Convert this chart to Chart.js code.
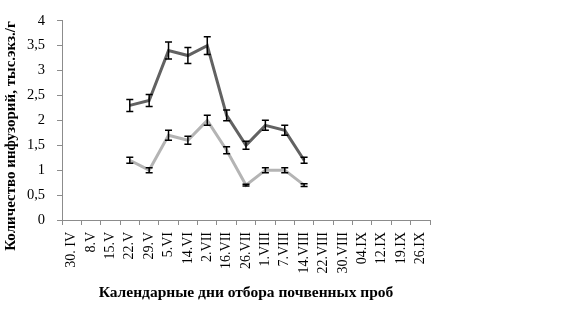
<!DOCTYPE html>
<html>
<head>
<meta charset="utf-8">
<script src="https://cdn.jsdelivr.net/npm/chart.js@4"></script>
<style>
html,body{margin:0;padding:0;background:#fff;}
#wrap{width:564px;height:310px;position:relative;}
</style>
</head>
<body>
<div id="wrap"><canvas id="c"></canvas></div>
<script>
const categories = ["30. IV","8.V","15.V","22.V","29.V","5.VI","14.VI","2.VII","16.VII","26.VII","1.VIII","7.VIII","14.VIII","22.VIII","30.VIII","04.IX","12.IX","19.IX","26.IX"];
const seriesDark = [null,null,null,2.3,2.4,3.4,3.3,3.5,2.1,1.5,1.9,1.8,1.2,null,null,null,null,null,null];
const errorsDark = [null,null,null,0.12,0.12,0.17,0.16,0.18,0.11,0.08,0.1,0.1,0.06,null,null,null,null,null,null];
const seriesLight = [null,null,null,1.2,1.0,1.7,1.6,2.0,1.4,0.7,1.0,1.0,0.7,null,null,null,null,null,null];
const errorsLight = [null,null,null,0.06,0.05,0.1,0.08,0.1,0.07,0.02,0.05,0.05,0.03,null,null,null,null,null,null];
const yTicks = [0,0.5,1,1.5,2,2.5,3,3.5,4];
const yTitle = "Количество инфузорий, тыс.экз./г";
const xTitle = "Календарные дни отбора почвенных проб";

const errorBars = {
  id: 'errorBars',
  afterDatasetsDraw(chart) {
    const ctx = chart.ctx;
    const xs = chart.scales.x, ys = chart.scales.y;
    const errs = [errorsDark, errorsLight];
    ctx.save();
    ctx.strokeStyle = '#000';
    ctx.lineWidth = 1.5;
    chart.data.datasets.forEach((ds, i) => {
      ds.data.forEach((v, j) => {
        const e = errs[i][j];
        if (v === null || e === null) return;
        const x = xs.getPixelForValue(j);
        const y1 = ys.getPixelForValue(v + e);
        const y2 = ys.getPixelForValue(v - e);
        ctx.beginPath();
        ctx.moveTo(x, y1); ctx.lineTo(x, y2);
        ctx.moveTo(x - 3.5, y1); ctx.lineTo(x + 3.5, y1);
        ctx.moveTo(x - 3.5, y2); ctx.lineTo(x + 3.5, y2);
        ctx.stroke();
      });
    });
    ctx.restore();
  }
};

const yTitlePlugin = {
  id: 'yTitlePlugin',
  afterDraw(chart) {
    const ctx = chart.ctx;
    ctx.save();
    ctx.translate(11, 136);
    ctx.rotate(-Math.PI / 2);
    ctx.font = 'bold 15px "Liberation Serif"';
    ctx.fillStyle = '#000';
    ctx.textAlign = 'center';
    ctx.textBaseline = 'middle';
    ctx.fillText(yTitle, 0, 0);
    ctx.restore();
  }
};

new Chart(document.getElementById('c'), {
  type: 'line',
  data: {
    labels: categories,
    datasets: [
      {data: seriesDark, borderColor: '#626262', borderWidth: 3, pointRadius: 0, tension: 0, fill: false},
      {data: seriesLight, borderColor: '#b4b4b4', borderWidth: 3, pointRadius: 0, tension: 0, fill: false}
    ]
  },
  options: {
    responsive: true,
    maintainAspectRatio: false,
    animation: false,
    layout: {padding: {left: 0, right: 134, top: 15, bottom: 0}},
    plugins: {legend: {display: false}, tooltip: {enabled: false}},
    scales: {
      x: {
        offset: true,
        grid: {offset: true, drawOnChartArea: false, tickLength: 5, color: '#8c8c8c'},
        border: {color: '#8c8c8c', width: 1},
        ticks: {minRotation: 90, maxRotation: 90, autoSkip: false, padding: 7, color: '#000',
                font: {family: '"Liberation Serif"', size: 14}},
        title: {display: true, text: xTitle, color: '#000', padding: {top: 0, bottom: 8},
                font: {family: '"Liberation Serif"', size: 15.5, weight: 'bold'}},
        afterFit(s) { s.height = 90; }
      },
      y: {
        min: 0, max: 4,
        afterBuildTicks(s) { s.ticks = yTicks.map(v => ({value: v})); },
        grid: {drawOnChartArea: false, tickLength: 5, color: '#8c8c8c'},
        border: {color: '#8c8c8c', width: 1},
        ticks: {padding: 12, color: '#000', font: {family: '"Liberation Serif"', size: 14.5},
                callback: v => String(v).replace('.', ',')},
        afterFit(s) { s.width = 62; }
      }
    }
  },
  plugins: [errorBars, yTitlePlugin]
});
</script>
</body>
</html>
